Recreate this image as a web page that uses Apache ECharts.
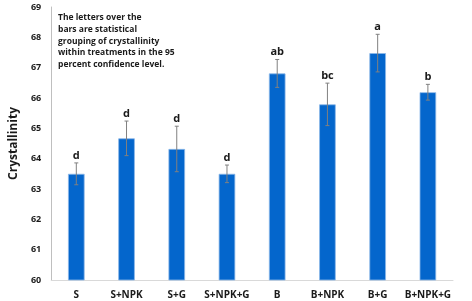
<!DOCTYPE html>
<html>
<head>
<meta charset="utf-8">
<script src="https://cdn.jsdelivr.net/npm/echarts@6/dist/echarts.min.js"></script>
<style>
    html, body { margin: 0; padding: 0; background: #fff; }
    #chart { width: 472px; height: 301px; }
</style>
</head>
<body>
<div id="chart"></div>
<script>
// treatments
var categories = ['S', 'S+NPK', 'S+G', 'S+NPK+G', 'B', 'B+NPK', 'B+G', 'B+NPK+G'];
// mean crystallinity
var values = [63.5, 64.67, 64.32, 63.5, 66.81, 65.79, 67.48, 66.19];
// error bar half-length
var errors = [0.36, 0.57, 0.75, 0.29, 0.46, 0.7, 0.62, 0.26];
// statistical grouping letters
var letters = ['d', 'd', 'd', 'd', 'ab', 'bc', 'a', 'b'];
var yTicks = [60, 61, 62, 63, 64, 65, 66, 67, 68, 69];

var fontFamily = '"Open Sans", "Liberation Sans", sans-serif';

var chart = echarts.init(document.getElementById('chart'), null, { renderer: 'canvas' });

var errData = values.map(function (v, i) {
    return [i, v - errors[i], v + errors[i], letters[i]];
});

var option = {
    animation: false,
    grid: { left: 36, right: 19, top: 7, bottom: 21 },
    xAxis: {
        type: 'category',
        data: categories,
        axisLine: { lineStyle: { color: '#d9d9d9', width: 1 } },
        axisTick: { show: false },
        axisLabel: {
            color: '#1a1a1a',
            fontWeight: 'bold',
            fontSize: 10,
            fontFamily: fontFamily,
            margin: 10,
            interval: 0
        }
    },
    yAxis: {
        type: 'value',
        min: yTicks[0],
        max: yTicks[yTicks.length - 1],
        interval: 1,
        name: 'Crystallinity',
        nameLocation: 'middle',
        nameGap: 22,
        nameTextStyle: {
            color: '#1a1a1a',
            fontWeight: 'bold',
            fontSize: 12,
            fontFamily: fontFamily
        },
        axisLine: { show: true, lineStyle: { color: '#bfbfbf', width: 1 } },
        axisTick: { show: false },
        splitLine: { show: false },
        axisLabel: {
            color: '#1a1a1a',
            fontWeight: 'bold',
            fontSize: 9,
            fontFamily: fontFamily,
            margin: 10
        }
    },
    series: [
        {
            type: 'bar',
            data: values,
            barWidth: '33%',
            itemStyle: {
                color: '#0466cc',
                borderColor: '#8bb8e8',
                borderWidth: 0.8
            }
        },
        {
            type: 'custom',
            data: errData,
            z: 5,
            renderItem: function (params, api) {
                var x = api.value(0);
                var lo = api.coord([x, api.value(1)]);
                var hi = api.coord([x, api.value(2)]);
                var cap = 2;
                var st = { stroke: '#808080', lineWidth: 1 };
                return {
                    type: 'group',
                    children: [
                        { type: 'line', shape: { x1: hi[0], y1: hi[1], x2: lo[0], y2: lo[1] }, style: st },
                        { type: 'line', shape: { x1: hi[0] - cap, y1: hi[1], x2: hi[0] + cap, y2: hi[1] }, style: st },
                        { type: 'line', shape: { x1: lo[0] - cap, y1: lo[1], x2: lo[0] + cap, y2: lo[1] }, style: st },
                        {
                            type: 'text',
                            style: {
                                x: hi[0],
                                y: hi[1] - 2,
                                text: letters[params.dataIndex],
                                fill: '#1a1a1a',
                                font: 'bold 11px ' + fontFamily,
                                align: 'center',
                                verticalAlign: 'bottom'
                            }
                        }
                    ]
                };
            }
        }
    ],
    graphic: [
        {
            type: 'text',
            left: 58,
            top: 12,
            style: {
                text: 'The letters over the\nbars are statistical\ngrouping of crystallinity\nwithin treatments in the 95\npercent confidence level.',
                fill: '#1a1a1a',
                font: 'bold 8.5px ' + fontFamily,
                lineHeight: 11.7
            }
        }
    ]
};

chart.setOption(option);
</script>
</body>
</html>
